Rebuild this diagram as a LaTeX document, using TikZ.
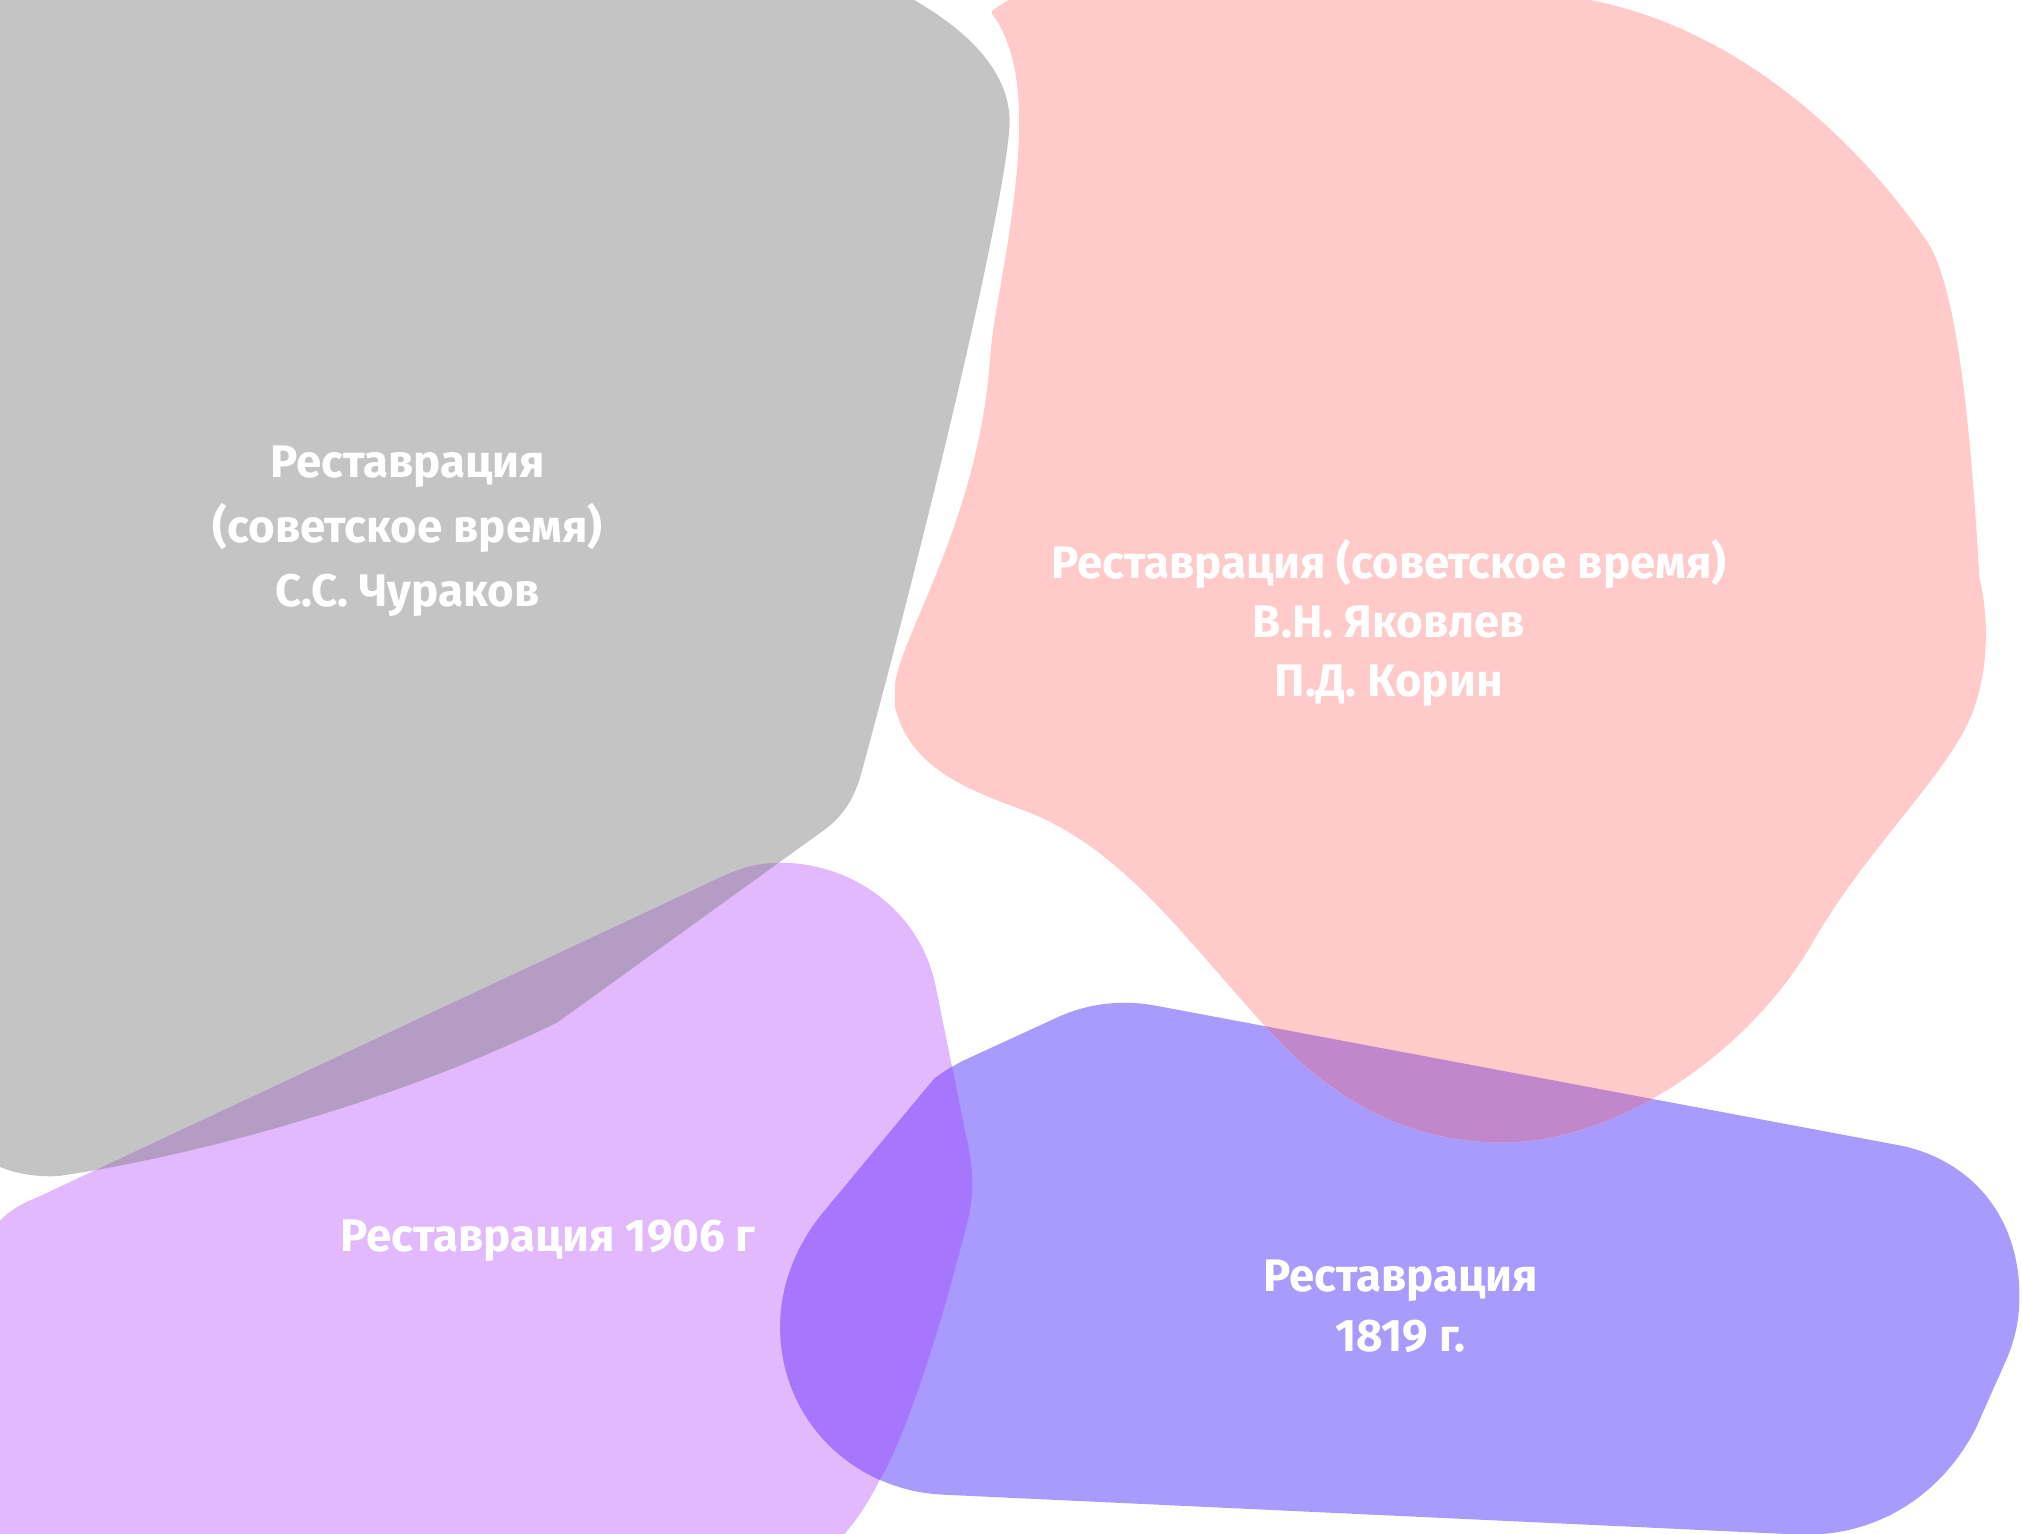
\documentclass[tikz,border=0pt]{standalone}
\usepackage{fontspec}
\setmainfont{Fira Sans}
\definecolor{cgray}{HTML}{C4C4C4}
\definecolor{clav}{HTML}{E2B9FC}
\definecolor{cblue}{HTML}{A99AFE}
\definecolor{cpink}{HTML}{FFCACA}
\definecolor{cgl}{HTML}{B59CC4}
\definecolor{clb}{HTML}{A676FC}
\definecolor{cbp}{HTML}{C187CC}
\newcommand\pthgray{(-5,-5) -- (700,-5) .. controls (750,22) and (783,55) .. (783,95) .. controls (781,150) and (725,390) .. (667,603) .. controls (661,622) and (652,634) .. (640,643) -- (432,793) .. controls (290,862) and (130,900) .. (45,912) .. controls (25,913) and (10,909) .. (0,905) -- (-5,905) -- cycle}
\newcommand\pthlav{(-5,952) .. controls (5,940) and (15,934) .. (30,928) -- (555,682) .. controls (575,672) and (590,669) .. (605,669) .. controls (660,669) and (712,705) .. (725,762) -- (749,880) .. controls (755,905) and (755,920) .. (752,940) .. controls (735,1010) and (705,1110) .. (682,1148) .. controls (672,1168) and (662,1182) .. (650,1195) -- (-5,1195) -- cycle}
\newcommand\pthblue{(724,837) -- (636,943) .. controls (615,970) and (605,1000) .. (605,1029) .. controls (605,1100) and (660,1155) .. (730,1159) -- (1395,1190) .. controls (1455,1192) and (1505,1160) .. (1532,1108) -- (1556,1054) .. controls (1562,1040) and (1566,1025) .. (1566,1005) .. controls (1566,940) and (1525,898) .. (1472,888) -- (897,780) .. controls (870,775) and (845,778) .. (822,788) -- (748,822) .. controls (738,827) and (730,832) .. (724,837) -- cycle}
\newcommand\pthpink{(790,-5) -- (771,7) .. controls (768,9) and (769,11) .. (771,13) .. controls (800,55) and (790,130) .. (782,185) .. controls (775,230) and (770,250) .. (768,275) .. controls (760,400) and (700,490) .. (694,530) -- (694,548) .. controls (705,595) and (750,612) .. (790,627) .. controls (870,655) and (920,730) .. (985,800) .. controls (1040,860) and (1100,886) .. (1165,886) .. controls (1260,886) and (1360,810) .. (1405,732) .. controls (1440,670) and (1495,615) .. (1520,572) .. controls (1540,540) and (1545,490) .. (1535,448) .. controls (1528,330) and (1518,225) .. (1495,188) .. controls (1420,80) and (1310,0) .. (1190,-5) -- cycle}
\tikzset{lbl/.style={text=white, align=center, font=\bfseries\fontsize{17.7}{23}\selectfont}}
\begin{document}
\begin{tikzpicture}[x=0.5pt, y=-0.5pt]
\useasboundingbox (0,0) rectangle (1568,1189);
\clip (0,0) rectangle (1568,1189);
\fill[cgray] \pthgray;
\fill[clav] \pthlav;
\fill[cblue] \pthblue;
\fill[cpink] \pthpink;
\begin{scope}\clip \pthgray; \fill[cgl] \pthlav; \end{scope}
\begin{scope}\clip \pthlav; \fill[clb] \pthblue; \end{scope}
\begin{scope}\clip \pthblue; \fill[cbp] \pthpink; \end{scope}
\node[lbl, font=\bfseries\fontsize{17.7}{25}\selectfont] (tgray) at (316,412) {Реставрация\\(советское время)\\С.С. Чураков};
\node[lbl] (tpink) at (1077,483) {Реставрация (советское время)\\В.Н. Яковлев\\П.Д. Корин};
\node[lbl] (tlav) at (425,962) {Реставрация 1906 г};
\node[lbl] (tblue) at (1086,1013) {Реставрация\\1819 г.};
\end{tikzpicture}
\end{document}
